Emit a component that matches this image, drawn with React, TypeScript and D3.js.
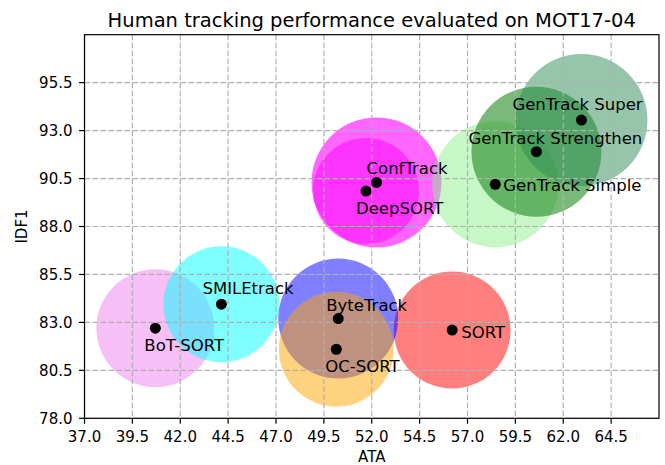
import React from "react";
import * as d3 from "d3";

const methods = ["SORT", "DeepSORT", "ByteTrack", "OC-SORT", "BoT-SORT", "SMILEtrack", "ConfTrack", "GenTrack Simple", "GenTrack Strengthen", "GenTrack Super"];
const ataValues = [56.2, 51.7, 50.25, 50.15, 40.7, 44.15, 52.25, 58.45, 60.6, 62.95];
const idf1Values = [82.6, 89.85, 83.2, 81.6, 82.7, 83.95, 90.3, 90.2, 91.9, 93.55];
const bubbleSizes = [3420, 2810, 3600, 3300, 3480, 3360, 4225, 3970, 4225, 4360];
const bubbleColors = ["red", "magenta", "blue", "orange", "violet", "cyan", "magenta", "lightgreen", "#1f8a1f", "seagreen"];
const bubbleAlphas = [0.5, 0.5, 0.5, 0.5, 0.5, 0.5, 0.6, 0.5, 0.6, 0.5];
const xTicks = [37.0, 39.5, 42.0, 44.5, 47.0, 49.5, 52.0, 54.5, 57.0, 59.5, 62.0, 64.5];
const yTicks = [78.0, 80.5, 83.0, 85.5, 88.0, 90.5, 93.0, 95.5];
// label offsets in px (dx, dy) relative to the point, text-anchor start
const labelOffsets: [number, number][] = [[9, 8], [-10, 23], [-12, -8], [-11, 23], [-11, 23], [-19, -10], [-10, -8], [8, 7], [-68, -8], [-69, -10]];

const W = 665, H = 465;
const L = 84.5, R = 659, T = 34.7, B = 418.3;

export default function App() {
  const x = d3.scaleLinear().domain([37, 67]).range([L, R]);
  const y = d3.scaleLinear().domain([78, 98]).range([B, T]);
  const r = d3.scaleSqrt().domain([0, 4360]).range([0, 66]);
  const font = "DejaVu Sans, sans-serif";
  return (
    <svg width={W} height={H} style={{ position: "absolute", left: 0, top: 0, background: "#fff" }} fontFamily={font}>
      <rect x={0} y={0} width={W} height={H} fill="#fff" />
      <defs>
        <clipPath id="plot"><rect x={L} y={T} width={R - L} height={B - T} /></clipPath>
      </defs>
      <g clipPath="url(#plot)">
        {methods.map((m, i) => (
          <circle key={m} cx={x(ataValues[i])} cy={y(idf1Values[i])} r={r(bubbleSizes[i])} fill={bubbleColors[i]} fillOpacity={bubbleAlphas[i]} />
        ))}
        {xTicks.map((t) => (
          <line key={"gx" + t} x1={x(t)} x2={x(t)} y1={T} y2={B} stroke="#b0b0b0" strokeWidth={1.2} strokeDasharray="5.5,2.5" />
        ))}
        {yTicks.map((t) => (
          <line key={"gy" + t} x1={L} x2={R} y1={y(t)} y2={y(t)} stroke="#b0b0b0" strokeWidth={1.2} strokeDasharray="5.5,2.5" />
        ))}
        {methods.map((m, i) => (
          <circle key={"d" + m} cx={x(ataValues[i])} cy={y(idf1Values[i])} r={5.5} fill="#000" />
        ))}
      </g>
      {methods.map((m, i) => (
        <text key={"t" + m} x={x(ataValues[i]) + labelOffsets[i][0]} y={y(idf1Values[i]) + labelOffsets[i][1]} fontSize={16.5} fill="#000">{m}</text>
      ))}
      <rect x={L} y={T} width={R - L} height={B - T} fill="none" stroke="#000" strokeWidth={1.2} />
      {xTicks.map((t) => (
        <g key={"xt" + t}>
          <line x1={x(t)} x2={x(t)} y1={B} y2={B + 5.5} stroke="#000" strokeWidth={1.2} />
          <text x={x(t)} y={B + 23.5} fontSize={15} textAnchor="middle" fill="#000">{t.toFixed(1)}</text>
        </g>
      ))}
      {yTicks.map((t) => (
        <g key={"yt" + t}>
          <line x1={L - 5.5} x2={L} y1={y(t)} y2={y(t)} stroke="#000" strokeWidth={1.2} />
          <text x={L - 12} y={y(t) + 5.5} fontSize={15} textAnchor="end" fill="#000">{t.toFixed(1)}</text>
        </g>
      ))}
      <text x={(L + R) / 2} y={462} fontSize={15} textAnchor="middle" fill="#000">ATA</text>
      <text transform={`translate(27, ${(T + B) / 2}) rotate(-90)`} fontSize={15} textAnchor="middle" fill="#000">IDF1</text>
      <text x={(L + R) / 2} y={26.5} fontSize={19.5} textAnchor="middle" fill="#000">Human tracking performance evaluated on MOT17-04</text>
    </svg>
  );
}
